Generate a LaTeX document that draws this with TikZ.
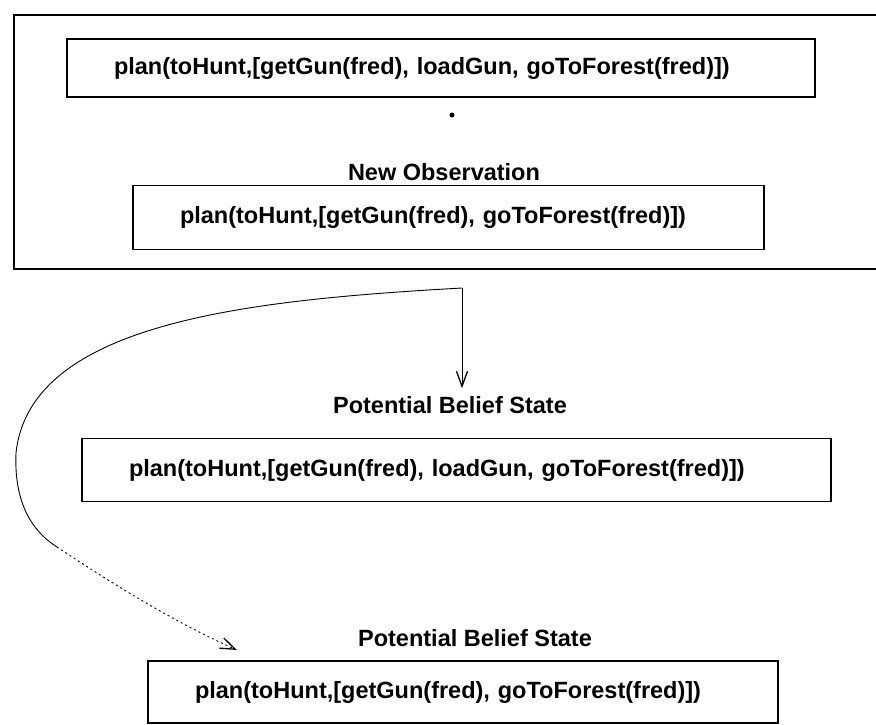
\documentclass[tikz,border=0pt]{standalone}
\usepackage{fontspec}
\setmainfont{Liberation Sans}
\usetikzlibrary{arrows.meta}
\begin{document}
\begin{tikzpicture}[x=1pt,y=-1pt,
  planbox/.style={draw, line width=1.3pt, align=left, inner xsep=47pt, inner ysep=0pt,
    font=\bfseries\fontsize{23.5}{27}\selectfont},
  caption/.style={font=\bfseries\fontsize{23.5}{27}\selectfont, inner sep=8pt},
  barb/.style={-{Straight Barb[length=15pt,width=11pt,line width=1.3pt]}},
  link/.style={line width=0.9pt}
]
\useasboundingbox (0,0) rectangle (876,725);

% frame around the current plan and the observation (open to the right)
\draw[line width=1.5pt] (876,15) -- (14,15) -- (14,269) -- (876,269);

\node[planbox, text width=654pt, minimum height=58pt] (b1) at (441,68)
  {plan(toHunt,[getGun(fred), loadGun, goToForest(fred)])};
\node[circle, fill, inner sep=0pt, minimum size=5pt] (dot) at (452,115) {};
\node[caption] (obs) at (444,172) {New Observation};
\node[planbox, text width=537pt, minimum height=64pt] (b2) at (448.5,217.5)
  {plan(toHunt,[getGun(fred), goToForest(fred)])};

% candidate belief states
\node[caption] (pb1) at (450,405) {Potential Belief State};
\node[planbox, text width=655pt, minimum height=63pt] (b3) at (456.5,470)
  {plan(toHunt,[getGun(fred), loadGun, goToForest(fred)])};
\node[caption] (pb2) at (475,638) {Potential Belief State};
\node[planbox, text width=536pt, minimum height=62pt] (b4) at (463,692)
  {plan(toHunt,[getGun(fred), goToForest(fred)])};

% branching connectors
\coordinate (split) at (462,288);
\coordinate (tip) at (237,650);
\draw[link, barb] (split) -- (split |- pb1.north);
\draw[link] (split) .. controls (250,300) and (30,322) .. (16,453)
  .. controls (14,500) and (30,530) .. (57,547);
\draw[link, dash pattern=on 2pt off 3pt, barb] (57,547) .. controls (110,582) and (170,620) .. (tip);
\end{tikzpicture}
\end{document}
